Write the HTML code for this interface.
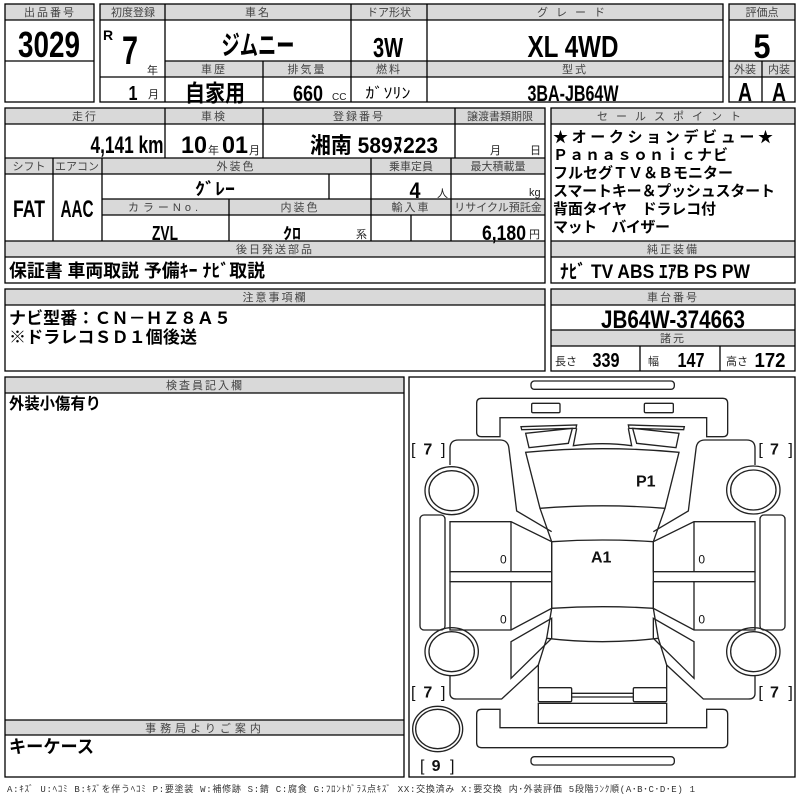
<!DOCTYPE html>
<html><head><meta charset="utf-8"><style>
html,body{margin:0;padding:0;background:#fff;width:800px;height:800px;overflow:hidden}
svg{display:block}
.f{font-family:"Liberation Sans","Noto Sans CJK JP",sans-serif}
.h{font-size:11px;fill:#444;text-anchor:middle;letter-spacing:2px}
.v{font-weight:bold;fill:#000;text-anchor:middle}
.j{font-family:"Liberation Sans","Noto Sans CJK JP",sans-serif;font-weight:bold;fill:#000}
</style></head><body>
<svg width="800" height="800" viewBox="0 0 800 800" xmlns="http://www.w3.org/2000/svg" class="f">
<g fill="#d9d9d9" stroke="none">
<rect x="5" y="4" width="89" height="16"/>
<rect x="100" y="4" width="623" height="16"/>
<rect x="165" y="61" width="558" height="16"/>
<rect x="729" y="4" width="66" height="16"/>
<rect x="729" y="61" width="66" height="16"/>
<rect x="5" y="108" width="540" height="16"/>
<rect x="5" y="158" width="540" height="16"/>
<rect x="102" y="199" width="443" height="16"/>
<rect x="5" y="241" width="540" height="16"/>
<rect x="551" y="108" width="244" height="16"/>
<rect x="551" y="241" width="244" height="16"/>
<rect x="5" y="289" width="540" height="16"/>
<rect x="551" y="289" width="244" height="16"/>
<rect x="551" y="330" width="244" height="16"/>
<rect x="5" y="377" width="399" height="16"/>
<rect x="5" y="720" width="399" height="15"/>
</g>
<g fill="none" stroke="#000" stroke-width="1.3">
<rect x="5" y="4" width="89" height="98"/>
<path d="M5 20H94M5 61H94"/>
<rect x="100" y="4" width="623" height="98"/>
<path d="M100 20H723M165 61H723M165 77H723M100 77H165M165 4V102M351 4V102M427 4V102M263 61V102"/>
<rect x="729" y="4" width="66" height="98"/>
<path d="M729 20H795M729 61H795M729 77H795M762 61V102"/>
<rect x="5" y="108" width="540" height="175"/>
<path d="M5 124H545M5 158H545M5 174H545M102 199H545M102 215H545M5 241H545M5 257H545"/>
<path d="M165 108V158M263 108V158M455 108V158M53 158V241M102 158V241M371 158V241M451 158V241M329 174V199M229 199V241M411 215V241"/>
<rect x="551" y="108" width="244" height="175"/>
<path d="M551 124H795M551 241H795M551 257H795"/>
<rect x="5" y="289" width="540" height="82"/>
<path d="M5 305H545"/>
<rect x="551" y="289" width="244" height="82"/>
<path d="M551 305H795M551 330H795M551 346H795M640 346V371M720 346V371"/>
<rect x="5" y="377" width="399" height="400"/>
<path d="M5 393H404M5 720H404M5 735H404"/>
<rect x="409" y="377" width="386" height="400"/>
</g>
<g class="h">
<text x="50" y="16">出品番号</text>
<text x="133" y="16" letter-spacing="0">初度登録</text>
<text x="258" y="16">車名</text>
<text x="389" y="16" letter-spacing="0">ドア形状</text>
<text x="575" y="16" letter-spacing="8">グレード</text>
<text x="762" y="16" letter-spacing="0">評価点</text>
<text x="214" y="73">車歴</text>
<text x="307" y="73">排気量</text>
<text x="389" y="73">燃料</text>
<text x="575" y="73">型式</text>
<text x="745" y="73" letter-spacing="0">外装</text>
<text x="779" y="73" letter-spacing="0">内装</text>
<text x="85" y="120">走行</text>
<text x="214" y="120">車検</text>
<text x="359" y="120">登録番号</text>
<text x="500" y="120" letter-spacing="0">譲渡書類期限</text>
<text x="29" y="170" letter-spacing="0">シフト</text>
<text x="77" y="170" letter-spacing="0">エアコン</text>
<text x="236" y="170">外装色</text>
<text x="411" y="170" letter-spacing="0">乗車定員</text>
<text x="498" y="170" letter-spacing="0">最大積載量</text>
<text x="165" y="211" letter-spacing="4">カラーNo.</text>
<text x="300" y="211">内装色</text>
<text x="411" y="211">輸入車</text>
<text x="498" y="211" letter-spacing="0">リサイクル預託金</text>
<text x="275" y="253">後日発送部品</text>
<text x="673" y="120" letter-spacing="8">セールスポイント</text>
<text x="673" y="253">純正装備</text>
<text x="275" y="301">注意事項欄</text>
<text x="673" y="301">車台番号</text>
<text x="673" y="342">諸元</text>
<text x="205" y="389">検査員記入欄</text>
<text x="205" y="732" letter-spacing="4">事務局よりご案内</text>
</g>
<g class="v">
<text x="49" y="57" font-size="36" textLength="62" lengthAdjust="spacingAndGlyphs">3029</text>
<text x="108" y="40" font-size="14">R</text>
<text x="130" y="64" font-size="40" textLength="16" lengthAdjust="spacingAndGlyphs">7</text>
<text x="133" y="100" font-size="20" textLength="9" lengthAdjust="spacingAndGlyphs">1</text>
<text x="258" y="55" font-size="27" textLength="73" lengthAdjust="spacingAndGlyphs">ジムニー</text>
<text x="388" y="57" font-size="28" textLength="30" lengthAdjust="spacingAndGlyphs">3W</text>
<text x="573" y="57" font-size="31" textLength="91" lengthAdjust="spacingAndGlyphs">XL  4WD</text>
<text x="762" y="58" font-size="34" textLength="17" lengthAdjust="spacingAndGlyphs">5</text>
<text x="215" y="101" font-size="23" textLength="60" lengthAdjust="spacingAndGlyphs">自家用</text>
<text x="308" y="101" font-size="22" textLength="30" lengthAdjust="spacingAndGlyphs">660</text>
<text x="388" y="98" font-size="15" font-weight="normal" textLength="45" lengthAdjust="spacingAndGlyphs">ｶﾞｿﾘﾝ</text>
<text x="573" y="101" font-size="22" textLength="91" lengthAdjust="spacingAndGlyphs">3BA-JB64W</text>
<text x="745" y="101" font-size="26" textLength="14" lengthAdjust="spacingAndGlyphs">A</text>
<text x="779" y="101" font-size="26" textLength="14" lengthAdjust="spacingAndGlyphs">A</text>
<text x="127" y="153" font-size="24" textLength="73" lengthAdjust="spacingAndGlyphs">4,141 km</text>
<text x="194" y="153" font-size="24" textLength="26" lengthAdjust="spacingAndGlyphs">10</text>
<text x="235" y="153" font-size="24" textLength="26" lengthAdjust="spacingAndGlyphs">01</text>
<text x="374" y="153" font-size="22" textLength="128" lengthAdjust="spacingAndGlyphs">湘南 589ﾇ223</text>
<text x="215" y="195" font-size="17" textLength="40" lengthAdjust="spacingAndGlyphs">ｸﾞﾚｰ</text>
<text x="415" y="198" font-size="22" textLength="11" lengthAdjust="spacingAndGlyphs">4</text>
<text x="29" y="217" font-size="24" textLength="32" lengthAdjust="spacingAndGlyphs">FAT</text>
<text x="77" y="217" font-size="24" textLength="33" lengthAdjust="spacingAndGlyphs">AAC</text>
<text x="165" y="240" font-size="20" textLength="26" lengthAdjust="spacingAndGlyphs">ZVL</text>
<text x="292" y="239" font-size="16" textLength="18" lengthAdjust="spacingAndGlyphs">ｸﾛ</text>
<text x="504" y="240" font-size="21" textLength="44" lengthAdjust="spacingAndGlyphs">6,180</text>
<text x="673" y="328" font-size="25" textLength="144" lengthAdjust="spacingAndGlyphs">JB64W-374663</text>
<text x="606" y="367" font-size="20" textLength="27" lengthAdjust="spacingAndGlyphs">339</text>
<text x="691" y="367" font-size="20" textLength="27" lengthAdjust="spacingAndGlyphs">147</text>
<text x="770" y="367" font-size="20" textLength="31" lengthAdjust="spacingAndGlyphs">172</text>
</g>
<g font-size="11" fill="#222">
<text x="147" y="74">年</text>
<text x="148" y="98">月</text>
<text x="332" y="100" font-size="10">CC</text>
<text x="208" y="154">年</text>
<text x="249" y="154">月</text>
<text x="490" y="154">月</text>
<text x="530" y="154">日</text>
<text x="437" y="197">人</text>
<text x="529" y="196">kg</text>
<text x="356" y="238">系</text>
<text x="529" y="238">円</text>
<text x="555" y="365">長さ</text>
<text x="648" y="365">幅</text>
<text x="726" y="365">高さ</text>
</g>
<g class="j">
<text x="9" y="277" font-size="18" textLength="256" lengthAdjust="spacingAndGlyphs">保証書 車両取説 予備ｷｰ ﾅﾋﾞ取説</text>
<text x="553" y="142" font-size="15" textLength="220">★オークションデビュー★</text>
<text x="553" y="160" font-size="15" textLength="175">Ｐａｎａｓｏｎｉｃナビ</text>
<text x="553" y="178" font-size="15" textLength="180">フルセグＴＶ＆Ｂモニター</text>
<text x="553" y="196" font-size="15" textLength="222">スマートキー＆プッシュスタート</text>
<text x="553" y="214" font-size="15" textLength="163">背面タイヤ　ドラレコ付</text>
<text x="553" y="232" font-size="15" textLength="117">マット　バイザー</text>
<text x="560" y="278" font-size="19" textLength="190" lengthAdjust="spacingAndGlyphs">ﾅﾋﾞ  TV  ABS  ｴｱB  PS  PW</text>
<text x="9" y="324" font-size="17" textLength="222">ナビ型番：ＣＮ－ＨＺ８Ａ５</text>
<text x="9" y="343" font-size="17" textLength="188">※ドラレコＳＤ１個後送</text>
<text x="9" y="409" font-size="16" textLength="92" lengthAdjust="spacingAndGlyphs">外装小傷有り</text>
<text x="9" y="753" font-size="18" textLength="85" lengthAdjust="spacingAndGlyphs">キーケース</text>
</g>
<text x="7" y="792" font-size="9" fill="#333" textLength="688" style="font-family:'Liberation Mono','Noto Sans CJK JP',monospace">A:ｷｽﾞ U:ﾍｺﾐ B:ｷｽﾞを伴うﾍｺﾐ P:要塗装 W:補修跡 S:錆 C:腐食 G:ﾌﾛﾝﾄｶﾞﾗｽ点ｷｽﾞ XX:交換済み X:要交換  内･外装評価  5段階ﾗﾝｸ順(A･B･C･D･E) 1</text>
<svg x="405" y="375" width="395" height="425" viewBox="0 0 1185 1275">
<g fill="none" stroke="#222" stroke-width="4">
<rect x="378" y="18" width="430" height="25" rx="10"/>
<path d="M230 70H953Q968 70 968 85V172Q968 185 953 185H905V128H285V185H230Q215 185 215 172V85Q215 70 230 70Z"/>
<rect x="380" y="85" width="85" height="28" rx="4"/>
<rect x="718" y="85" width="87" height="28" rx="4"/>
<path d="M348 155L515 150L513 160L350 164Z"/>
<path d="M362 175L502 160L490 205L372 218Z"/>
<path d="M838 155L670 150L672 160L836 164Z"/>
<path d="M822 175L683 160L695 205L813 218Z"/>
<path d="M515 160L505 212Q592 200 680 212L670 160"/>
<path d="M362 232Q592 210 822 232L780 400Q592 385 405 400Z"/>
<path d="M405 400L440 500Q592 490 745 500L780 400"/>
<path d="M440 500V700Q592 690 745 700V500"/>
<path d="M135 270V220Q135 195 160 195H285Q310 195 312 222L335 408L440 470"/>
<path d="M1050 270V220Q1050 195 1025 195H900Q875 195 873 222L850 408L745 470"/>
<path d="M135 440H318L440 500V590H135Z"/>
<path d="M135 620H440V700L318 765H135Z"/>
<path d="M135 590V620M440 590V620"/>
<path d="M1050 440H867L745 500V590H1050Z"/>
<path d="M1050 620H745V700L867 765H1050Z"/>
<path d="M1050 590V620"/>
<path d="M318 440V590M318 620V765M867 440V590M867 620V765"/>
<rect x="45" y="420" width="75" height="345" rx="12"/>
<rect x="1065" y="420" width="75" height="345" rx="12"/>
<ellipse cx="140" cy="347" rx="80" ry="72"/><ellipse cx="140" cy="347" rx="68" ry="60"/>
<ellipse cx="140" cy="830" rx="80" ry="72"/><ellipse cx="140" cy="830" rx="68" ry="60"/>
<ellipse cx="1045" cy="345" rx="80" ry="72"/><ellipse cx="1045" cy="345" rx="68" ry="60"/>
<ellipse cx="1045" cy="830" rx="80" ry="72"/><ellipse cx="1045" cy="830" rx="68" ry="60"/>
<ellipse cx="98" cy="1062" rx="75" ry="68"/><ellipse cx="98" cy="1062" rx="66" ry="59"/>
<path d="M440 700L425 790Q592 810 760 790L745 700"/>
<path d="M425 790L400 870V940M760 790L785 870V940"/>
<path d="M318 800L440 730V790L318 910Z"/>
<path d="M867 800L745 730V790L867 910Z"/>
<path d="M135 900V955Q135 972 155 972H290L400 870"/>
<path d="M1050 900V955Q1050 972 1030 972H895L785 870"/>
<rect x="400" y="938" width="100" height="42" rx="4"/>
<rect x="685" y="938" width="100" height="42" rx="4"/>
<path d="M500 955H685M500 966H685"/>
<rect x="400" y="985" width="385" height="60"/>
<path d="M230 1003H285V1058H905V1003H953Q968 1003 968 1018V1103Q968 1118 953 1118H230Q215 1118 215 1103V1018Q215 1003 230 1003Z"/>
<rect x="378" y="1145" width="430" height="25" rx="10"/>
</g>
<g font-family="Liberation Sans, sans-serif" font-weight="bold" fill="#111">
<text x="18" y="238" font-size="48" font-weight="normal">[</text><text x="55" y="238" font-size="48">7</text><text x="108" y="238" font-size="48" font-weight="normal">]</text>
<text x="1060" y="238" font-size="48" font-weight="normal">[</text><text x="1095" y="238" font-size="48">7</text><text x="1150" y="238" font-size="48" font-weight="normal">]</text>
<text x="18" y="968" font-size="48" font-weight="normal">[</text><text x="55" y="968" font-size="48">7</text><text x="108" y="968" font-size="48" font-weight="normal">]</text>
<text x="1060" y="968" font-size="48" font-weight="normal">[</text><text x="1095" y="968" font-size="48">7</text><text x="1150" y="968" font-size="48" font-weight="normal">]</text>
<text x="45" y="1188" font-size="48" font-weight="normal">[</text><text x="80" y="1188" font-size="48">9</text><text x="135" y="1188" font-size="48" font-weight="normal">]</text>
<text x="693" y="335" font-size="48">P1</text>
<text x="558" y="562" font-size="48">A1</text>
<g font-weight="normal" font-size="36">
<text x="285" y="565">0</text><text x="285" y="745">0</text>
<text x="880" y="565">0</text><text x="880" y="745">0</text>
</g>
</g>
</svg>
</svg>
</body></html>
